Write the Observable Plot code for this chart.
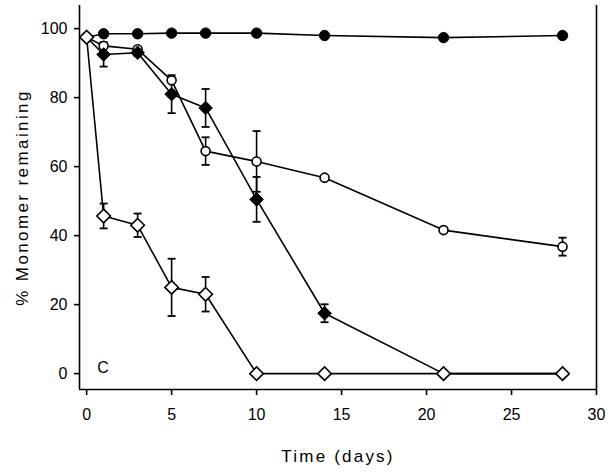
<!DOCTYPE html>
<html>
<head>
<meta charset="utf-8">
<script src="https://cdn.jsdelivr.net/npm/d3@7"></script>
<script src="https://cdn.jsdelivr.net/npm/@observablehq/plot@0.6"></script>
<style>
  html, body { margin: 0; padding: 0; background: #fff; }
  #chart svg { display: block; }
</style>
</head>
<body>
<div id="chart"></div>
<script>
const days = [0, 1, 3, 5, 7, 10, 14, 21, 28];
const filledCircle = [97.5, 98.5, 98.5, 98.7, 98.7, 98.7, 98, 97.4, 98];
const filledCircleErr = [0, 0, 0, 0, 0, 0, 0, 0, 0];
const openCircle = [97.5, 95, 94, 85, 64.5, 61.5, 56.8, 41.6, 36.8];
const openCircleErr = [0, 0, 0, 0, 4, 8.8, 0, 0, 2.6];
const filledDiamond = [97.5, 92.5, 93, 81, 77, 50.5, 17.5, 0, 0];
const filledDiamondErr = [0, 3.5, 1, 5.5, 5.5, 6.5, 2.6, 0, 0];
const openDiamond = [97.5, 45.7, 43, 25, 23, 0, 0, 0, 0];
const openDiamondErr = [0, 3.6, 3.4, 8.3, 5, 0, 0, 0, 0];
const xTicks = [0, 5, 10, 15, 20, 25, 30];
const yTicks = [0, 20, 40, 60, 80, 100];
const xLabel = "Time (days)";
const yLabel = "% Monomer remaining";
const panelLabel = "C";

const seriesDefs = [
  {name: "openCircle", values: openCircle, err: openCircleErr},
  {name: "filledDiamond", values: filledDiamond, err: filledDiamondErr},
  {name: "filledCircle", values: filledCircle, err: filledCircleErr},
  {name: "openDiamond", values: openDiamond, err: openDiamondErr}
];
const rows = seriesDefs.flatMap(s => days.map((d, i) => ({series: s.name, day: d, value: s.values[i], err: s.err[i]})));
const errRows = rows.filter(r => r.err > 0);
const bySeries = name => rows.filter(r => r.series === name);

const cap = {draw(c) { c.moveTo(-4, 0); c.lineTo(4, 0); }};
const diamond = {draw(c) { const r = 6.8; c.moveTo(0, -r); c.lineTo(r, 0); c.lineTo(0, r); c.lineTo(-r, 0); c.closePath(); }};

const font = "'Liberation Sans', Arial, sans-serif";
const xDomain = [-0.42, 30];
const yDomain = [-4.6, 106.7];

const chart = Plot.plot({
  width: 615,
  height: 473,
  marginLeft: 79,
  marginRight: 19,
  marginTop: 5,
  marginBottom: 84,
  style: {fontFamily: font, fontSize: "16px", color: "black", background: "white"},
  x: {domain: xDomain},
  y: {domain: yDomain},
  marks: [
    Plot.ruleX([xDomain[0], xDomain[1]], {stroke: "black", strokeWidth: 1.6}),
    Plot.ruleY([yDomain[0]], {stroke: "black", strokeWidth: 1.6}),
    Plot.axisX({ticks: xTicks, tickSize: 6, tickPadding: 13, tickFormat: d => String(d), label: null, strokeWidth: 1.6, fontSize: 16}),
    Plot.axisY({ticks: yTicks, tickSize: 5, tickPadding: 7, tickFormat: d => String(d), label: null, strokeWidth: 1.6, fontSize: 16}),
    Plot.text([xLabel], {frameAnchor: "bottom", dy: 67, fontSize: 17, lineAnchor: "middle"}),
    Plot.text([yLabel], {frameAnchor: "left", dx: -57, rotate: -90, fontSize: 17, lineAnchor: "middle", textAnchor: "middle"}),
    Plot.text([panelLabel], {frameAnchor: "bottom-left", dx: 23.5, dy: -21.5, fontSize: 16, textAnchor: "middle", lineAnchor: "middle"}),
    Plot.lineY(rows, {x: "day", y: "value", z: "series", stroke: "black", strokeWidth: 1.6}),
    Plot.ruleX(errRows, {x: "day", y1: d => d.value - d.err, y2: d => d.value + d.err, stroke: "black", strokeWidth: 1.6}),
    Plot.dot(errRows, {x: "day", y: d => d.value - d.err, symbol: cap, stroke: "black", strokeWidth: 1.8}),
    Plot.dot(errRows, {x: "day", y: d => d.value + d.err, symbol: cap, stroke: "black", strokeWidth: 1.8}),
    Plot.dot(bySeries("openCircle"), {x: "day", y: "value", r: 4.5, fill: "white", stroke: "black", strokeWidth: 1.6}),
    Plot.dot(bySeries("filledDiamond"), {x: "day", y: "value", symbol: diamond, fill: "black", stroke: "black", strokeWidth: 1}),
    Plot.dot(bySeries("filledCircle"), {x: "day", y: "value", r: 5.2, fill: "black", stroke: "black", strokeWidth: 1}),
    Plot.dot(bySeries("openDiamond"), {x: "day", y: "value", symbol: diamond, fill: "white", stroke: "black", strokeWidth: 1.6})
  ]
});
d3.select(chart).selectAll("text").each(function() {
  const t = this.textContent;
  if (t === xLabel) d3.select(this).attr("letter-spacing", "2.2px");
  if (t === yLabel) d3.select(this).attr("letter-spacing", "2.4px");
});
document.getElementById("chart").appendChild(chart);
</script>
</body>
</html>
